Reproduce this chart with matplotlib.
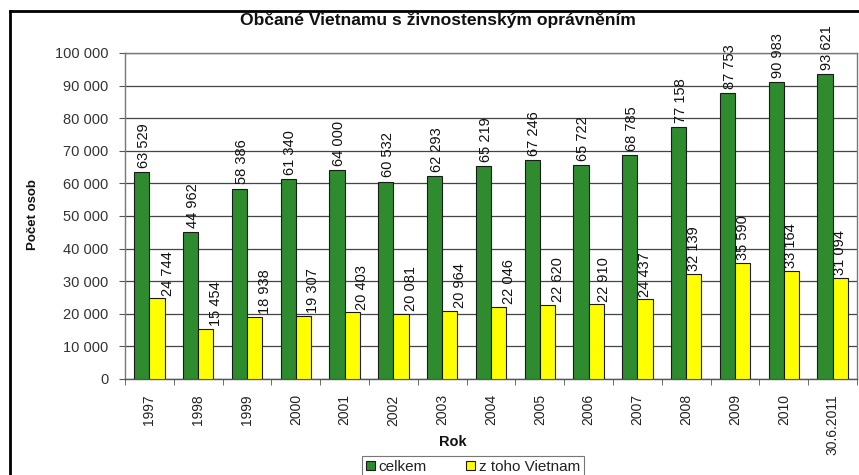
import matplotlib
matplotlib.use("Agg")
import matplotlib.pyplot as plt
from matplotlib.lines import Line2D
from matplotlib.patches import Patch
import numpy as np

categories = ["1997", "1998", "1999", "2000", "2001", "2002", "2003", "2004",
              "2005", "2006", "2007", "2008", "2009", "2010", "30.6.2011"]
celkem = [63529, 44962, 58386, 61340, 64000, 60532, 62293, 65219,
          67246, 65722, 68785, 77158, 87753, 90983, 93621]
vietnam = [24744, 15454, 18938, 19307, 20403, 20081, 20964, 22046,
           22620, 22910, 24437, 32139, 35590, 33164, 31094]
series_names = ["celkem", "z toho Vietnam"]
title = "Občané Vietnamu s živnostenským oprávněním"

# label horizontal shift (px) for the yellow-series labels (style only)
yel_shift_px = [11, 10, 10, 10, 10, 10, 10, 10, 11, 8, 0, 0, 0, 0, 0]

plt.rcParams['font.family'] = ['Liberation Sans', 'DejaVu Sans']

W, H = 859, 475
fig = plt.figure(figsize=(W / 100, H / 100), dpi=100)
fig.patch.set_facecolor('white')

L, R, T, B = 125, 857, 53, 379
ax = fig.add_axes([L / W, 1 - B / H, (R - L) / W, (B - T) / H])

GREEN = '#2e8b2e'
YELLOW = '#ffff00'
x = np.arange(len(categories))
bw = 0.31
ax.bar(x - bw / 2, celkem, bw, color=GREEN, edgecolor='#1a1a1a', linewidth=0.8, zorder=3)
ax.bar(x + bw / 2, vietnam, bw, color=YELLOW, edgecolor='#1a1a1a', linewidth=0.8, zorder=3)

def fmt(v):
    return f"{v:,}".replace(",", " ")

for i, (g, yv) in enumerate(zip(celkem, vietnam)):
    ax.annotate(fmt(g), (x[i] - bw / 2, g), xytext=(1.5, 3), textcoords='offset points',
                rotation=90, ha='center', va='bottom', fontsize=10.5, color='#111111')
    ax.annotate(fmt(yv), (x[i] + bw / 2, yv), xytext=(yel_shift_px[i] * 0.72, 2),
                textcoords='offset points',
                rotation=90, ha='center', va='bottom', fontsize=10.5, color='#111111')

ax.set_xlim(-0.5, len(categories) - 0.5)
ax.set_ylim(0, 100000)
ax.set_yticks(np.arange(0, 100001, 10000))
ax.set_yticklabels([fmt(v) for v in range(0, 100001, 10000)], fontsize=10.5, color='#333333')
ax.set_xticks(x)
ax.set_xticklabels(categories, rotation=90, fontsize=10, color='#222222', va='top')
ax.tick_params(axis='x', which='major', length=0, pad=11)
ax.set_xticks(np.arange(-0.5, len(categories), 1.0), minor=True)
ax.tick_params(axis='x', which='minor', length=4, color='#555555', direction='out')
ax.tick_params(axis='y', length=4, color='#555555', direction='out', pad=8)

ax.grid(axis='y', color='#444444', linewidth=0.9, zorder=0)
ax.set_axisbelow(True)
for s in ax.spines.values():
    s.set_color('#777777')
    s.set_linewidth(1.0)
ax.spines['bottom'].set_color('#555555')

fig.text(438 / W, 1 - 20 / H, title, ha='center', va='center', fontsize=12.6,
         fontweight='bold', color='#111111')
fig.text(453 / W, 1 - 442 / H, "Rok", ha='center', va='center', fontsize=10.5,
         fontweight='bold', color='#111111')
fig.text(33 / W, 1 - 215 / H, "Počet osob", ha='center', va='center', fontsize=9.5,
         fontweight='bold', rotation=90, color='#111111')

handles = [Patch(facecolor=GREEN, edgecolor='#1a1a1a', linewidth=0.8),
           Patch(facecolor=YELLOW, edgecolor='#1a1a1a', linewidth=0.8)]
leg = fig.legend(handles, series_names, loc='upper center', ncol=2,
                 bbox_to_anchor=(473 / W, 1 - 456 / H), fontsize=11,
                 frameon=True, fancybox=False, edgecolor='#555555',
                 handlelength=0.55, handleheight=0.55, handletextpad=0.25,
                 columnspacing=2.6, borderpad=0.25, borderaxespad=0,
                 labelcolor='#222222')
leg.get_frame().set_linewidth(0.8)

# figure border (left & top visible)
fig.add_artist(Line2D([10 / W, 10 / W], [0, 1 - 11 / H], transform=fig.transFigure,
                      color='black', linewidth=2))
fig.add_artist(Line2D([10 / W, 1], [1 - 11 / H, 1 - 11 / H], transform=fig.transFigure,
                      color='black', linewidth=2))

fig.savefig("out.png", dpi=100)
